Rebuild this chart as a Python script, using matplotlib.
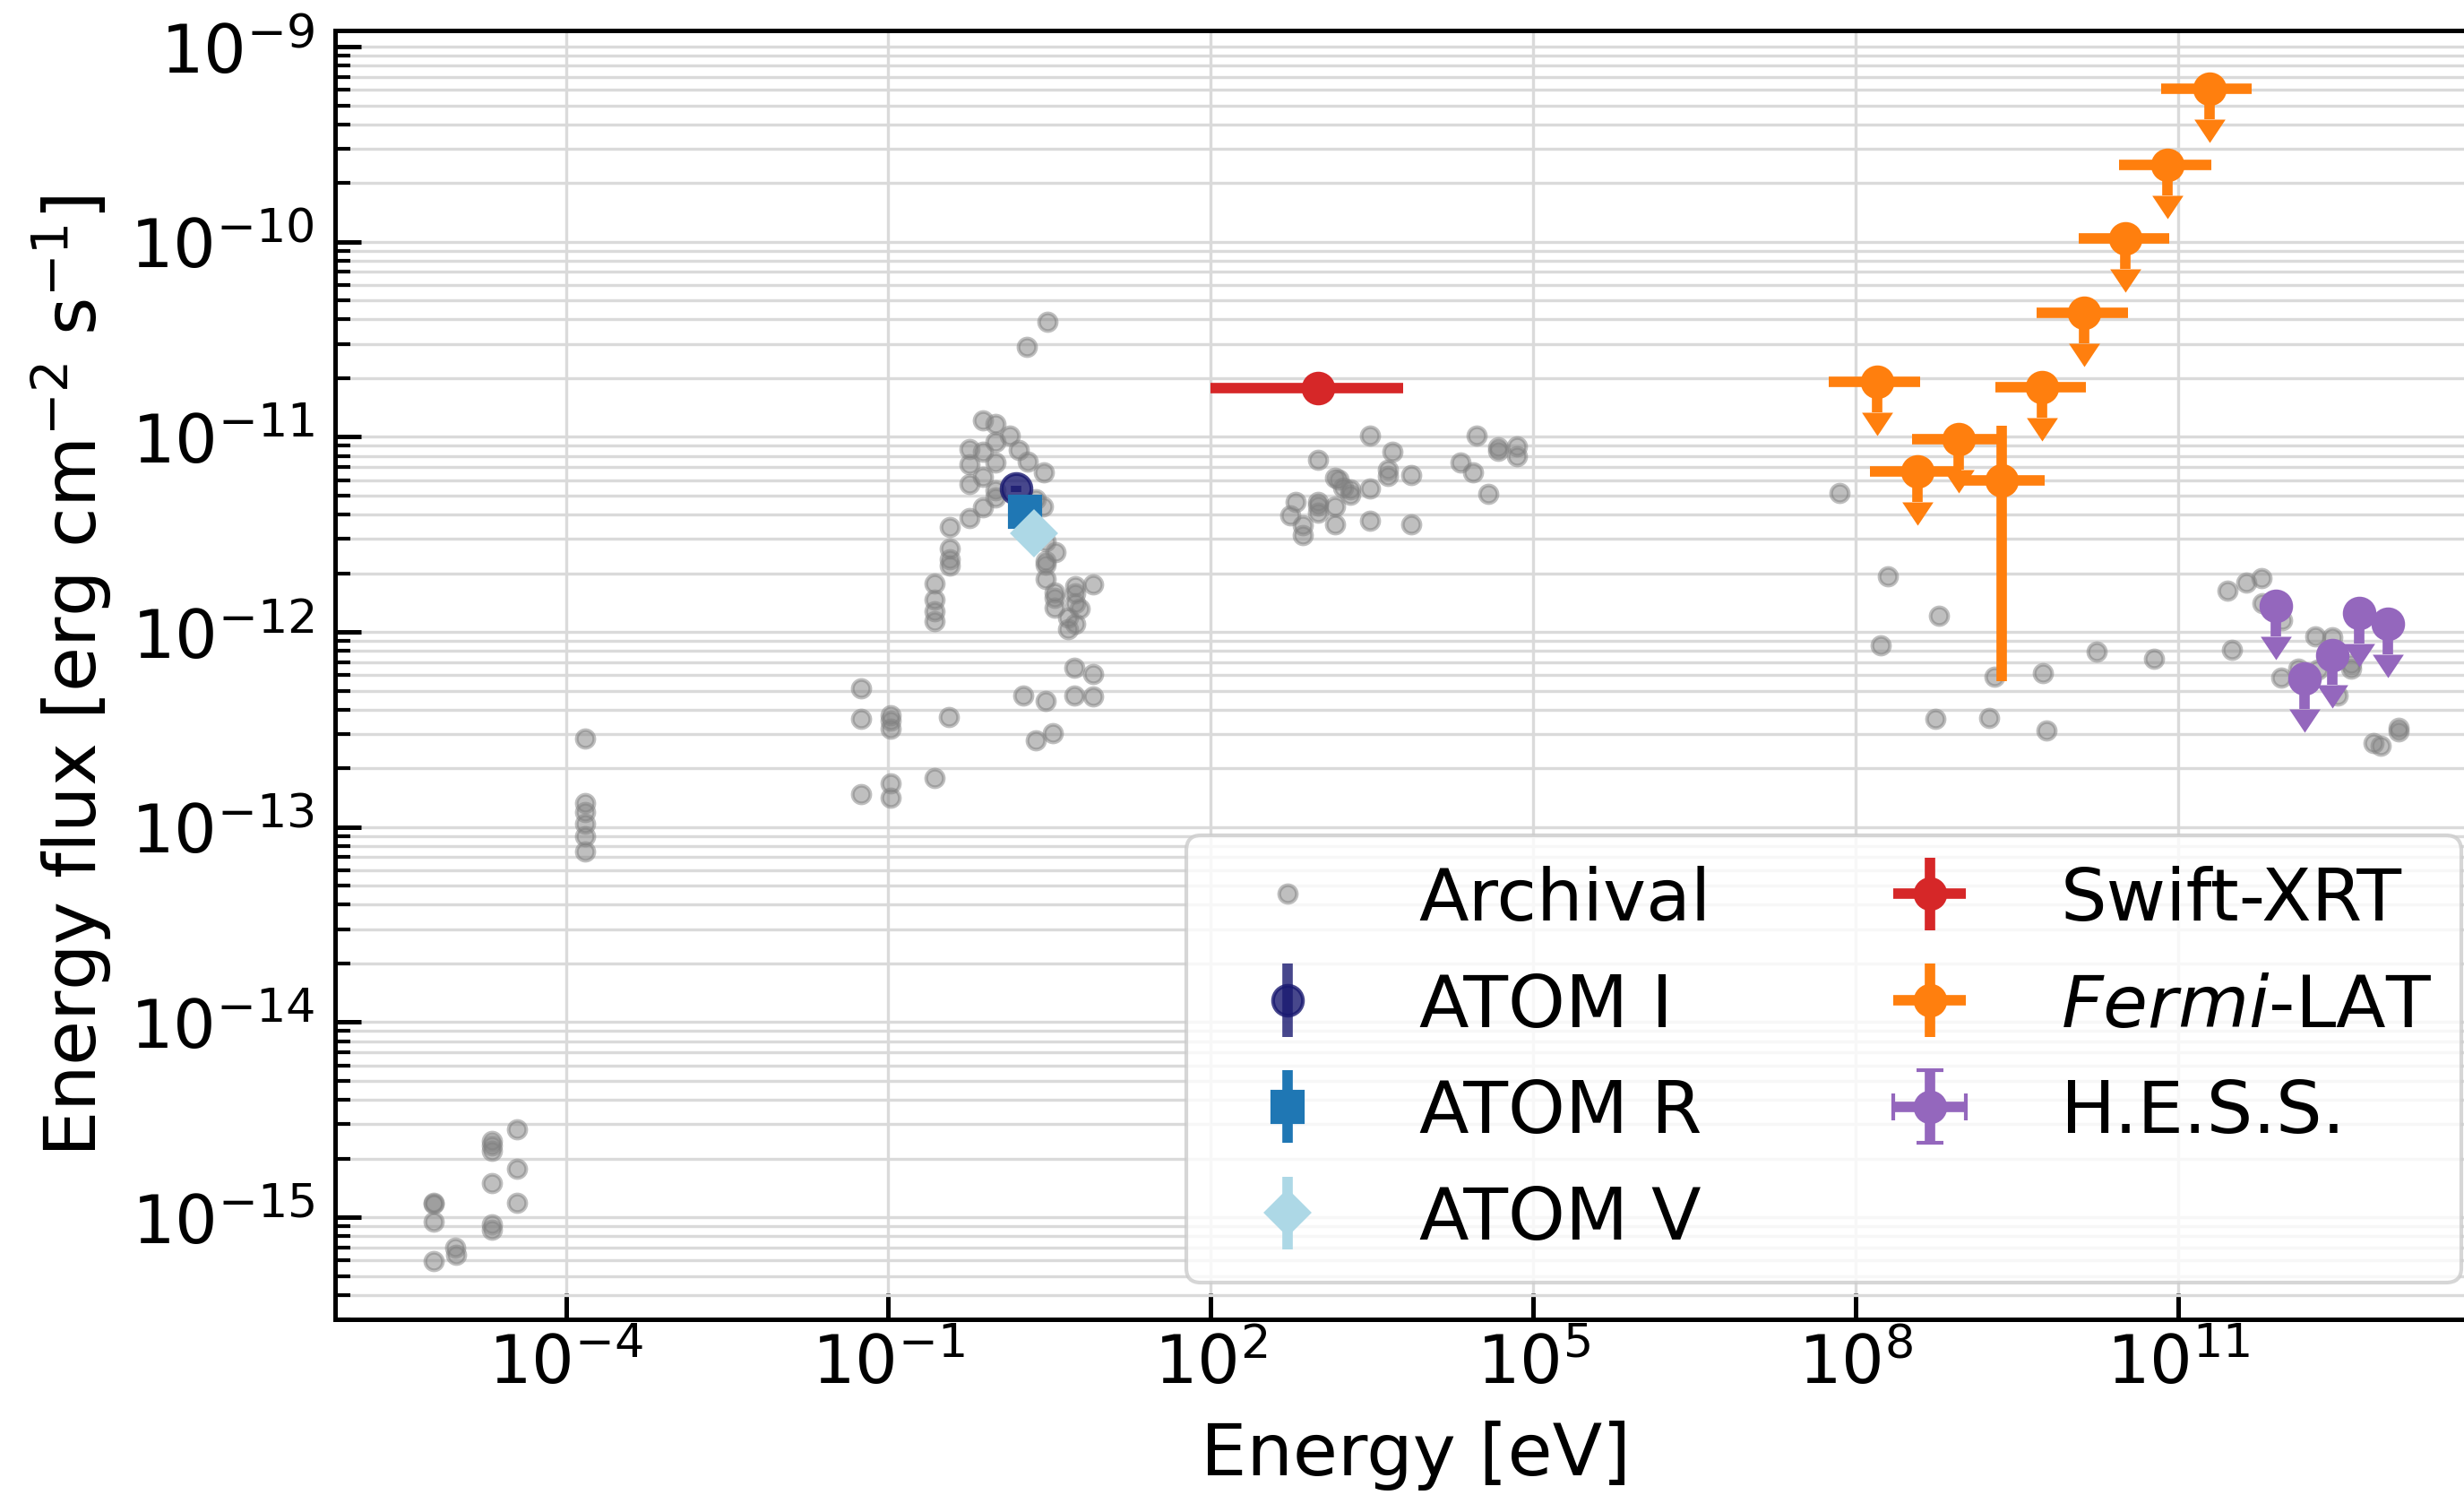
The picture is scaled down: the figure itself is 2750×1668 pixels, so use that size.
import numpy as np
import matplotlib
matplotlib.use("Agg")
import matplotlib.pyplot as plt
import matplotlib.lines as mlines
from matplotlib.path import Path
from matplotlib.ticker import NullLocator

# ---------- DATA ----------
# archival multiwavelength points (energy in eV, energy flux in erg cm^-2 s^-1)
archival_e = [
    5.9e-6, 5.9e-6, 5.9e-6, 5.9e-6, 9.3e-6, 9.6e-6,
    2.04e-5, 2.04e-5, 2.04e-5, 2.04e-5, 2.04e-5, 2.04e-5,
    3.5e-5, 3.5e-5, 3.5e-5,
    1.51e-4, 1.51e-4, 1.51e-4, 1.51e-4, 1.51e-4, 1.51e-4,
    0.0557, 0.0557, 0.0557,
    0.106, 0.106, 0.106, 0.106, 0.106,
    0.269, 0.269, 0.269, 0.269, 0.269,
    0.370, 0.370, 0.370, 0.370, 0.363,
    0.569, 0.569, 0.569, 0.569,
    0.759, 0.759, 0.759, 0.759,
    1.0, 1.0, 1.0, 1.0, 1.0,
    1.36, 1.63, 1.93, 2.0, 2.37, 2.72, 2.81, 3.02,
    2.91, 2.91, 2.91, 2.91, 3.56, 3.52, 3.52, 3.52,
    4.70, 4.70, 5.51, 5.51, 5.51, 5.51, 6.07,
    7.98, 7.98, 7.98, 5.33, 5.33, 1.80, 2.90, 3.41, 2.34,
    3050, 3050, 3050, 4860, 995, 995, 995, 995,
    1440, 1540, 1690, 1990, 1990, 4480, 4480, 7280, 7280,
    620, 1420, 1420, 545, 713, 713,
    2.95e4, 4.71e4, 4.71e4, 7.06e4, 7.06e4, 2.12e4, 2.74e4, 3.85e4,
    7.03e7, 2.0e8, 5.92e8, 1.72e8, 1.73e10, 6.01e10, 1.97e9, 5.46e9,
    5.56e8, 1.73e9, 5.93e9,
    2.9e11, 4.32e11, 6.01e11, 6.12e11, 3.18e11, 9.29e11, 1.88e12, 2.72e12,
    9.16e11, 1.32e12, 2.0e12, 4.1e12, 4.1e12, 3.04e12,
    6.53e12, 7.67e12, 1.13e13, 1.13e13,
]
archival_f = [
    1.19e-15, 1.17e-15, 9.45e-16, 5.93e-16, 6.98e-16, 6.44e-16,
    2.46e-15, 2.33e-15, 2.20e-15, 1.50e-15, 9.2e-16, 8.6e-16,
    2.83e-15, 1.77e-15, 1.19e-15,
    2.83e-13, 1.33e-13, 1.20e-13, 1.04e-13, 8.95e-14, 7.48e-14,
    5.14e-13, 3.57e-13, 1.48e-13,
    3.75e-13, 3.53e-13, 3.19e-13, 1.67e-13, 1.42e-13,
    1.78e-12, 1.47e-12, 1.28e-12, 1.14e-12, 1.79e-13,
    3.45e-12, 2.67e-12, 2.37e-12, 2.18e-12, 3.65e-13,
    8.65e-12, 7.21e-12, 5.71e-12, 3.82e-12,
    1.22e-11, 8.37e-12, 6.25e-12, 4.35e-12,
    1.17e-11, 9.45e-12, 7.41e-12, 5.32e-12, 4.91e-12,
    1.02e-11, 8.57e-12, 2.89e-11, 7.44e-12, 4.81e-12, 4.38e-12, 6.58e-12, 3.87e-11,
    2.90e-12, 2.32e-12, 2.22e-12, 1.87e-12, 2.57e-12, 1.59e-12, 1.49e-12, 1.33e-12,
    1.03e-12, 1.19e-12, 1.71e-12, 1.58e-12, 1.40e-12, 1.10e-12, 1.32e-12,
    1.75e-12, 6.10e-13, 4.69e-13, 6.53e-13, 4.74e-13, 4.74e-13, 4.41e-13, 3.03e-13, 2.77e-13,
    1.01e-11, 5.45e-12, 3.73e-12, 8.4e-12, 7.63e-12, 4.66e-12, 4.45e-12, 4.10e-12,
    6.18e-12, 6.05e-12, 5.5e-12, 5.37e-12, 5.04e-12, 6.79e-12, 6.33e-12, 6.40e-12, 3.57e-12,
    4.66e-12, 4.40e-12, 3.57e-12, 3.94e-12, 3.51e-12, 3.13e-12,
    1.01e-11, 8.8e-12, 8.5e-12, 8.9e-12, 7.96e-12, 7.38e-12, 6.56e-12, 5.12e-12,
    5.16e-12, 1.92e-12, 1.21e-12, 8.57e-13, 7.91e-13, 7.31e-13, 5.9e-13, 6.13e-13,
    3.6e-13, 3.64e-13, 3.13e-13,
    1.63e-12, 1.80e-12, 1.89e-12, 1.41e-12, 8.13e-13, 1.15e-12, 9.53e-13, 9.43e-13,
    5.86e-13, 6.5e-13, 6.39e-13, 6.86e-13, 6.5e-13, 4.74e-13,
    2.7e-13, 2.6e-13, 3.21e-13, 3.08e-13,
]

# ATOM optical photometry
atom_i_e, atom_i_f, atom_i_ferr = [1.53], [5.43e-12], [0.2e-12]
atom_r_e, atom_r_f, atom_r_ferr = [1.88], [4.14e-12], [0.15e-12]
atom_v_e, atom_v_f, atom_v_ferr = [2.25], [3.19e-12], [0.12e-12]

# Swift-XRT
xrt_e, xrt_e_lo, xrt_e_hi = [1.0e3], [1.0e2], [6.15e3]
xrt_f, xrt_ferr = [1.78e-11], [0.08e-11]

# Fermi-LAT bins (upper limits flagged)
fermi_e = [1.57e8, 3.78e8, 9.14e8, 2.27e9, 5.38e9, 1.34e10, 3.23e10, 7.91e10, 1.94e11]
fermi_e_lo = [5.6e7, 1.36e8, 3.33e8, 8.97e8, 2.0e9, 4.8e9, 1.18e10, 2.84e10, 6.97e10]
fermi_e_hi = [3.98e8, 9.7e8, 2.06e9, 5.74e9, 1.39e10, 3.40e10, 8.28e10, 2.03e11, 4.85e11]
fermi_f = [1.91e-11, 6.62e-12, 9.68e-12, 5.96e-12, 1.80e-11, 4.31e-11, 1.04e-10, 2.48e-10, 6.08e-10]
fermi_ferr = [0, 0, 0, 5.4e-12, 0, 0, 0, 0, 0]
fermi_ul = [True, True, True, False, True, True, True, True, True]

# H.E.S.S. upper limits
hess_e = [8.17e11, 1.50e12, 2.72e12, 4.84e12, 8.89e12]
hess_f = [1.36e-12, 5.75e-13, 7.62e-13, 1.25e-12, 1.10e-12]

# ---------- STYLE ----------
UL_FRAC = 0.3       # length of the upper-limit stem as fraction of the flux
EW = 2.8            # error bar line width
FS = 19.5           # label / legend font size
# filled arrow head hanging below the end of the stem
HEAD = Path([(-1, 0), (1, 0), (0, -1.5), (-1, 0)],
            [Path.MOVETO, Path.LINETO, Path.LINETO, Path.CLOSEPOLY])


def fill_heads(container, color, size=12.5):
    """Swap the thin caret of an upper limit for a filled arrow head."""
    for cap in container.lines[1]:
        if cap.get_marker() == mlines.CARETDOWNBASE:
            cap.set_marker(HEAD)
            cap.set_markersize(size)
            cap.set_markerfacecolor(color)
            cap.set_markeredgewidth(0)


fig = plt.figure(figsize=(9.1667, 5.5633), dpi=300)
ax = fig.add_axes([0.1359, 0.1175, 0.8776, 0.8615])
ax.set_xscale("log")
ax.set_yscale("log")

# archival
ax.plot(archival_e, archival_f, "o", color="gray", alpha=0.5, ms=4.7, mew=1,
        label="Archival", zorder=1)

# ATOM
ax.errorbar(atom_i_e, atom_i_f, yerr=atom_i_ferr, fmt="o", color="midnightblue",
            alpha=0.8, ms=8, elinewidth=EW, label="ATOM I", zorder=3)
ax.errorbar(atom_r_e, atom_r_f, yerr=atom_r_ferr, fmt="s", color="#1f77b4",
            ms=8, elinewidth=EW, label="ATOM R", zorder=3)
ax.errorbar(atom_v_e, atom_v_f, yerr=atom_v_ferr, fmt="D", color="lightblue",
            ms=8, elinewidth=EW, label="ATOM V", zorder=3)

# Swift-XRT
xe = np.array(xrt_e)
ax.errorbar(xrt_e, xrt_f, yerr=xrt_ferr,
            xerr=[xe - np.array(xrt_e_lo), np.array(xrt_e_hi) - xe],
            fmt="o", color="#d62728", ms=8, elinewidth=EW, label="Swift-XRT", zorder=3)

# Fermi-LAT: upper limits and detections
fe = np.array(fermi_e)
ff = np.array(fermi_f)
fxerr = np.array([fe - np.array(fermi_e_lo), np.array(fermi_e_hi) - fe])
ul = np.array(fermi_ul)
eb = ax.errorbar(fe[ul], ff[ul], xerr=fxerr[:, ul], yerr=UL_FRAC * ff[ul], uplims=True,
                 fmt="o", color="#ff7f0e", ms=8, elinewidth=EW, capsize=0, zorder=3)
fill_heads(eb, "#ff7f0e")
ax.errorbar(fe[~ul], ff[~ul], xerr=fxerr[:, ~ul], yerr=np.array(fermi_ferr)[~ul],
            fmt="o", color="#ff7f0e", ms=8, elinewidth=EW, capsize=0,
            label=r"$\it{Fermi}$-LAT", zorder=3)

# H.E.S.S.
hf = np.array(hess_f)
eb = ax.errorbar(hess_e, hess_f, xerr=np.zeros(len(hess_e)), yerr=UL_FRAC * hf,
                 uplims=True, fmt="o", color="#9467bd", ms=8, elinewidth=EW,
                 capsize=3.5, label="H.E.S.S.", zorder=3)
fill_heads(eb, "#9467bd")

# ---------- AXES ----------
ax.set_xlim(7.1e-7, 9.3e13)
ax.set_ylim(3.0e-16, 1.21e-9)
ax.set_xticks([1e-4, 1e-1, 1e2, 1e5, 1e8, 1e11])
ax.xaxis.set_minor_locator(NullLocator())

ax.tick_params(which="both", direction="in", labelsize=18)
ax.tick_params(axis="y", which="major", pad=5.5)
ax.tick_params(which="major", length=7, width=1.2)
ax.tick_params(which="minor", length=4, width=1.0)
for s in ax.spines.values():
    s.set_linewidth(1.2)

ax.set_axisbelow(True)
ax.grid(which="major", color="#dadada", lw=0.8)
ax.grid(which="minor", axis="y", color="#dadada", lw=0.8)

ax.set_xlabel("Energy [eV]", fontsize=FS, labelpad=6)
ax.set_ylabel(r"Energy flux [erg cm$^{-2}$ s$^{-1}$]", fontsize=FS)

ax.legend(loc="lower right", ncol=2, fontsize=FS)

fig.savefig("out.png", dpi=300)
